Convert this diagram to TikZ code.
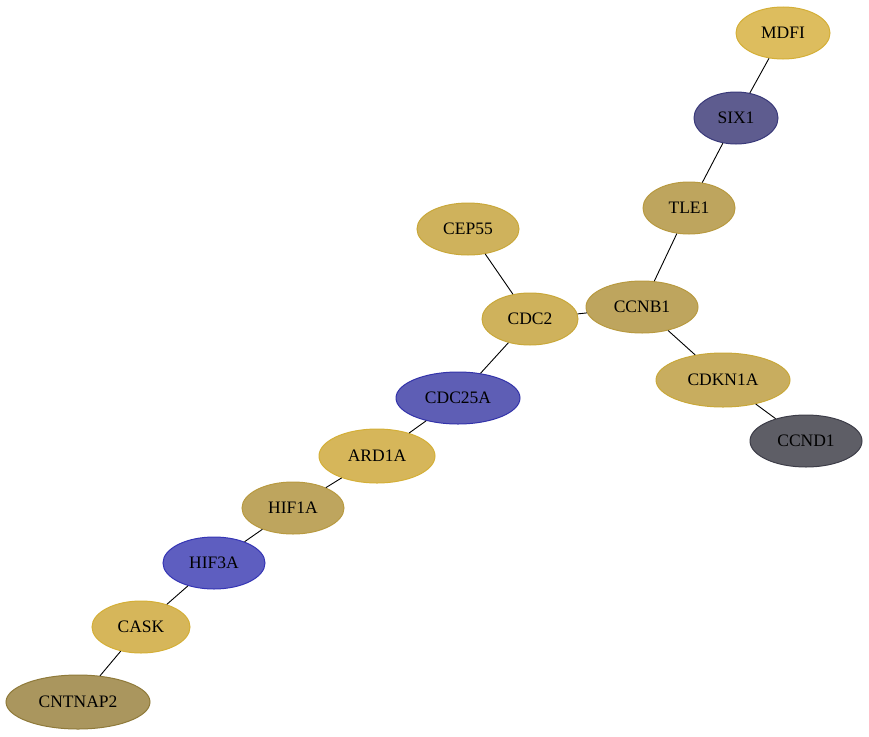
\documentclass[tikz,border=0pt]{standalone}
\usepackage{fontspec}
\setmainfont{Liberation Serif}
\usetikzlibrary{shapes.geometric}
\definecolor{cA}{HTML}{DDBD5E}\definecolor{bA}{HTML}{D4AF37}
\definecolor{cSix}{HTML}{5E5C8F}\definecolor{bSix}{HTML}{3A3A7A}
\definecolor{cT}{HTML}{BEA55E}\definecolor{bT}{HTML}{B89A40}
\definecolor{cC}{HTML}{CFB25C}\definecolor{bC}{HTML}{C9A83A}
\definecolor{cK}{HTML}{C8AD5F}
\definecolor{cD1}{HTML}{5E5E66}\definecolor{bD1}{HTML}{3D3D48}
\definecolor{cBl}{HTML}{5E5EB5}\definecolor{bBl}{HTML}{3333AA}
\definecolor{cH3}{HTML}{5E5EC0}\definecolor{bH3}{HTML}{3535B5}
\definecolor{cY}{HTML}{D6B65A}
\definecolor{cN}{HTML}{AA965E}\definecolor{bN}{HTML}{8F7A3A}
\tikzset{
  gene/.style={ellipse, draw=#1, line width=1pt, inner sep=0pt, minimum height=52pt,
    font=\fontsize{17.5}{20}\selectfont, text=black},
  edge/.style={draw=black, line width=0.9pt}
}
\begin{document}
\begin{tikzpicture}[x=1pt,y=-1pt]
\useasboundingbox (0,0) rectangle (869,736);
\node[gene=bA, fill=cA, minimum width=94pt] (MDFI) at (783,33) {MDFI};
\node[gene=bSix, fill=cSix, minimum width=84pt] (SIX1) at (736,118) {SIX1};
\node[gene=bT, fill=cT, minimum width=92pt] (TLE1) at (689,208) {TLE1};
\node[gene=bC, fill=cC, minimum width=102pt] (CEP55) at (468,229) {CEP55};
\node[gene=bC, fill=cC, minimum width=96pt] (CDC2) at (530,319) {CDC2};
\node[gene=bT, fill=cT, minimum width=112pt] (CCNB1) at (642,307) {CCNB1};
\node[gene=bC, fill=cK, minimum width=134pt, minimum height=54pt] (CDKN1A) at (723,380) {CDKN1A};
\node[gene=bD1, fill=cD1, minimum width=112pt] (CCND1) at (806,441) {CCND1};
\node[gene=bBl, fill=cBl, minimum width=124pt] (CDC25A) at (458,398) {CDC25A};
\node[gene=bA, fill=cY, minimum width=116pt, minimum height=54pt] (ARD1A) at (377,456) {ARD1A};
\node[gene=bT, fill=cT, minimum width=102pt] (HIF1A) at (293,508) {HIF1A};
\node[gene=bH3, fill=cH3, minimum width=102pt] (HIF3A) at (214,563) {HIF3A};
\node[gene=bA, fill=cY, minimum width=98pt] (CASK) at (141,627) {CASK};
\node[gene=bN, fill=cN, minimum width=144pt, minimum height=54pt] (CNTNAP2) at (78,702) {CNTNAP2};
\draw[edge] (MDFI) -- (SIX1);
\draw[edge] (SIX1) -- (TLE1);
\draw[edge] (TLE1) -- (CCNB1);
\draw[edge] (CEP55) -- (CDC2);
\draw[edge] (CDC2) -- (CCNB1);
\draw[edge] (CCNB1) -- (CDKN1A);
\draw[edge] (CDKN1A) -- (CCND1);
\draw[edge] (CDC2) -- (CDC25A);
\draw[edge] (CDC25A) -- (ARD1A);
\draw[edge] (ARD1A) -- (HIF1A);
\draw[edge] (HIF1A) -- (HIF3A);
\draw[edge] (HIF3A) -- (CASK);
\draw[edge] (CASK) -- (CNTNAP2);
\end{tikzpicture}
\end{document}
